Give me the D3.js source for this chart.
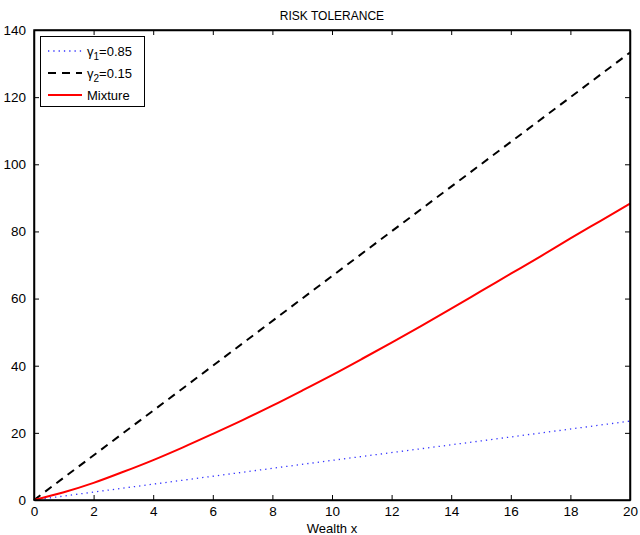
<!DOCTYPE html>
<html>
<head>
<meta charset="utf-8">
<script src="https://cdn.jsdelivr.net/npm/d3@7"></script>
<style>
  body { margin: 0; background: #fff; }
  svg { display: block; font-family: "Liberation Sans", Arial, sans-serif; }
</style>
</head>
<body>
<svg id="chart" width="640" height="535"></svg>
<script>
// Wealth grid and risk tolerance of each utility component
const wealthLinear = [0, 5, 10, 15, 20];
const gamma1Tol = [0, 5.9, 11.8, 17.6, 23.5];
const gamma2Tol = [0, 33.3, 66.7, 100, 133.3];
const wealthMix = [0, 1, 2, 3, 4, 5, 6, 7, 8, 9, 10, 11, 12, 13, 14, 15, 16, 17, 18, 19, 20];
const mixtureTol = [0, 2.3, 5.1, 8.4, 11.9, 15.7, 19.7, 23.8, 28.1, 32.6, 37.2, 42.0, 46.9, 51.9, 57.0, 62.2, 67.4, 72.6, 77.9, 83.1, 88.3];
const xTicks = [0, 2, 4, 6, 8, 10, 12, 14, 16, 18, 20];
const yTicks = [0, 20, 40, 60, 80, 100, 120, 140];

const svg = d3.select("#chart");
const m = { left: 34, right: 630, top: 30, bottom: 500 };
const x = d3.scaleLinear().domain([0, 20]).range([m.left, m.right]);
const y = d3.scaleLinear().domain([0, 140]).range([m.bottom, m.top]);

const line = (xs, ys, curve) => d3.line()
  .x((d, i) => x(xs[i])).y(d => y(d)).curve(curve || d3.curveLinear)(ys);

// Series
svg.append("path").attr("d", line(wealthLinear, gamma1Tol))
  .attr("fill", "none").attr("stroke", "#3333ff").attr("stroke-width", 1.3)
  .attr("stroke-dasharray", "1.3,4");
svg.append("path").attr("d", line(wealthLinear, gamma2Tol))
  .attr("fill", "none").attr("stroke", "#000").attr("stroke-width", 2)
  .attr("stroke-dasharray", "8,6");
svg.append("path").attr("d", line(wealthMix, mixtureTol, d3.curveMonotoneX))
  .attr("fill", "none").attr("stroke", "#ff0000").attr("stroke-width", 2);

// Axes with inward ticks, mirrored on top and right
const tickLen = 5;
svg.append("g").attr("transform", `translate(0,${m.bottom})`)
  .call(d3.axisBottom(x).tickValues(xTicks).tickSizeInner(-tickLen).tickSizeOuter(0).tickPadding(6).tickFormat(d3.format("d")));
svg.append("g").attr("transform", `translate(0,${m.top})`)
  .call(d3.axisTop(x).tickValues(xTicks).tickSizeInner(-tickLen).tickSizeOuter(0).tickFormat(""));
svg.append("g").attr("transform", `translate(${m.left},0)`)
  .call(d3.axisLeft(y).tickValues(yTicks).tickSizeInner(-tickLen).tickSizeOuter(0).tickPadding(8).tickFormat(d3.format("d")));
svg.append("g").attr("transform", `translate(${m.right},0)`)
  .call(d3.axisRight(y).tickValues(yTicks).tickSizeInner(-tickLen).tickSizeOuter(0).tickFormat(""));

svg.selectAll(".domain").attr("stroke", "#000").attr("stroke-width", 1.5);
svg.selectAll(".tick line").attr("stroke", "#000");
svg.selectAll(".tick text").attr("font-size", 13.5).attr("fill", "#000")
  .attr("font-family", "Liberation Sans, Arial, sans-serif");

// Plot frame
svg.append("rect").attr("x", m.left).attr("y", m.top)
  .attr("width", m.right - m.left).attr("height", m.bottom - m.top)
  .attr("fill", "none").attr("stroke", "#000").attr("stroke-width", 1.5);

// Title and axis label
svg.append("text").attr("x", (m.left + m.right) / 2).attr("y", 20)
  .attr("text-anchor", "middle").attr("font-size", 12).text("RISK TOLERANCE");
svg.append("text").attr("x", (m.left + m.right) / 2).attr("y", 533)
  .attr("text-anchor", "middle").attr("font-size", 13).text("Wealth x");

// Legend
const lg = svg.append("g");
lg.append("rect").attr("x", 40.5).attr("y", 36.5).attr("width", 104).attr("height", 70)
  .attr("fill", "#fff").attr("stroke", "#000").attr("stroke-width", 1);
const entries = [
  { name: "γ", sub: "1", rest: "=0.85", stroke: "#3333ff", w: 1.3, dash: "1.3,4", yy: 51 },
  { name: "γ", sub: "2", rest: "=0.15", stroke: "#000", w: 2, dash: "8,6", yy: 73 },
  { name: "Mixture", sub: null, rest: "", stroke: "#ff0000", w: 2, dash: null, yy: 95 }
];
entries.forEach(e => {
  lg.append("line").attr("x1", 48).attr("x2", 82).attr("y1", e.yy).attr("y2", e.yy)
    .attr("stroke", e.stroke).attr("stroke-width", e.w)
    .attr("stroke-dasharray", e.dash);
  const t = lg.append("text").attr("x", 87).attr("y", e.yy + 4.5).attr("font-size", 13);
  t.append("tspan").text(e.name);
  if (e.sub) {
    t.append("tspan").attr("font-size", 10).attr("dy", 4).text(e.sub);
    t.append("tspan").attr("dy", -4).text(e.rest);
  }
});
</script>
</body>
</html>
